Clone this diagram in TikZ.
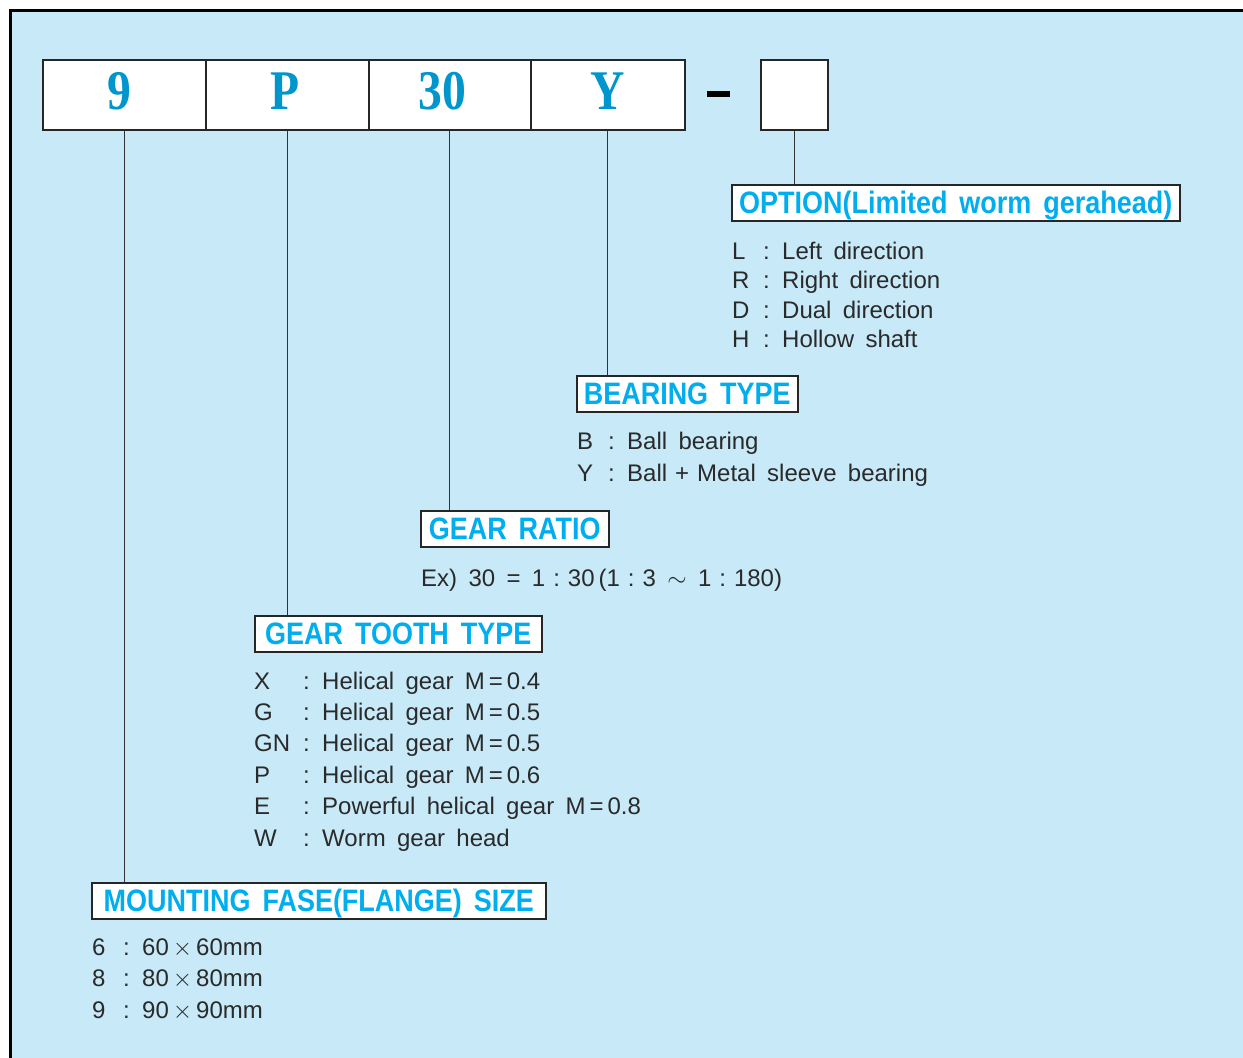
\documentclass[tikz,border=0pt]{standalone}
\usepackage{fontspec}
\setmainfont[WordSpace=1.7]{Liberation Sans}
\newfontfamily\codefont[FakeStretch=0.85]{Liberation Serif}
\newfontfamily\titlefont[FakeStretch=0.87,WordSpace=1.6]{Liberation Sans}
\usepackage{tikz}
\usetikzlibrary{positioning}

\definecolor{panelblue}{HTML}{C7E9F8}
\definecolor{codeblue}{HTML}{0096CC}
\definecolor{titleblue}{HTML}{00AEEF}
\definecolor{ink}{HTML}{2A2A2A}

\newcommand{\itemline}[3][31pt]{\makebox[#1][l]{#2}\makebox[19pt][l]{:}#3}
\newcommand{\bytimes}{\,$\times$\,}

\tikzset{
  codebox/.style={draw=black!85, line width=1.5pt, fill=white, anchor=north west,
    inner sep=0pt, minimum height=70pt, text height=37pt, text depth=8pt,
    font=\codefont\bfseries\fontsize{56}{56}\selectfont, text=codeblue},
  titlebox/.style={draw=black!85, line width=1.5pt, fill=white, anchor=north west,
    inner xsep=0pt, inner ysep=7pt, text height=22pt, text depth=0pt,
    font=\titlefont\bfseries\fontsize{31}{31}\selectfont, text=titleblue},
  entry/.style={anchor=base west, inner sep=0pt, font=\fontsize{24}{24}\selectfont, text=ink},
  lead/.style={draw=black!80, line width=1.3pt}
}

\begin{document}
\begin{tikzpicture}[x=1pt,y=-1pt]

    \useasboundingbox (0,0) rectangle (1243,1058);
    \fill[panelblue] (10,10) rectangle (1243,1058);
    \draw[line width=3pt,black] (10,1058) -- (10,10) -- (1243,10);

    % model code
    \node[codebox, minimum width=163pt] (c9) at (42,59) {\hspace{-10pt}9};
    \node[codebox, minimum width=163pt] (cP) at (205,59) {\hspace{-4pt}P};
    \node[codebox, minimum width=162pt] (c30) at (368,59) {\hspace{-14pt}30};
    \node[codebox, minimum width=154pt] (cY) at (530,59) {Y};
    \node[fill=black, inner sep=0pt, minimum width=23pt, minimum height=6pt] (dash) at (718.5,94) {};
    \node[codebox, minimum width=67pt] (cOpt) at (760,59) {};

    % option
    \node[titlebox, minimum width=448pt] (optTitle) at (731,184) {OPTION(Limited worm gerahead)};
    \draw[lead] (cOpt.south) -- (cOpt.south |- optTitle.north);
    \foreach \k/\txt [count=\i] in {L/Left direction, R/Right direction, D/Dual direction, H/Hollow shaft}
        \node[entry] (opt\i) at (732,{230.2+29.3*\i}) {\itemline{\k}{\txt}};

    % bearing
    \node[titlebox, minimum width=221pt] (brgTitle) at (576,375) {BEARING TYPE};
    \draw[lead] (cY.south) -- (cY.south |- brgTitle.north);
    \foreach \k/\txt [count=\i] in {B/Ball bearing, Y/Ball\,\,+\,\,Metal sleeve bearing}
        \node[entry] (brg\i) at (577,{417+32*\i}) {\itemline{\k}{\txt}};

    % gear ratio
    \node[titlebox, minimum width=188pt] (ratioTitle) at (420,510) {GEAR RATIO};
    \draw[lead] (c30.south) -- (c30.south |- ratioTitle.north);
    \node[entry] (ratio1) at (421,586) {Ex)\ 30 = 1\,\,:\,\,30\,(1\,\,:\,\,3 $\sim$ 1\,\,:\,\,180)};

    % gear tooth
    \node[titlebox, minimum width=287pt] (toothTitle) at (254,615) {GEAR TOOTH TYPE};
    \draw[lead] (cP.south) -- (cP.south |- toothTitle.north);
    \foreach \k/\txt [count=\i] in {X/Helical gear M\,=\,0.4, G/Helical gear M\,=\,0.5,
        GN/Helical gear M\,=\,0.5, P/Helical gear M\,=\,0.6,
        E/Powerful helical gear M\,=\,0.8, W/Worm gear head}
        \node[entry] (tooth\i) at (254,{657.6+31.4*\i}) {\itemline[49pt]{\k}{\txt}};

    % mounting size
    \node[titlebox, minimum width=454pt] (mountTitle) at (91,882) {MOUNTING FASE(FLANGE) SIZE};
    \draw[lead] (c9.south) -- (c9.south |- mountTitle.north);
    \foreach \k/\txt [count=\i] in {6/60\bytimes60mm, 8/80\bytimes80mm, 9/90\bytimes90mm}
        \node[entry] (mount\i) at (92,{923.5+31.5*\i}) {\itemline{\k}{\txt}};

\end{tikzpicture}
\end{document}
